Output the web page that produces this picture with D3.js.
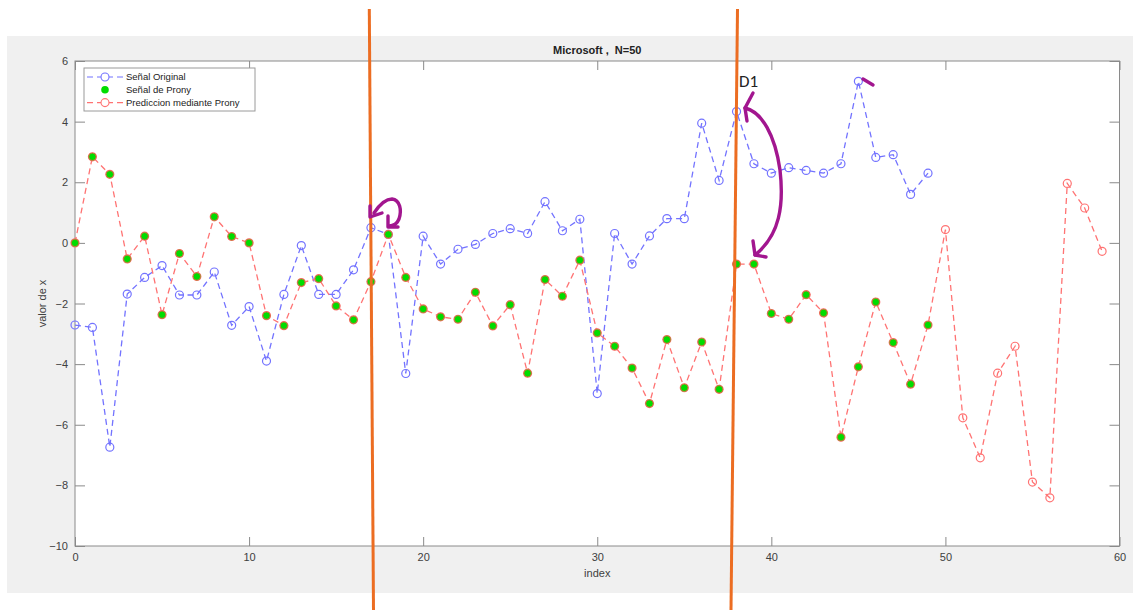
<!DOCTYPE html>
<html>
<head>
<meta charset="utf-8">
<script src="https://cdn.jsdelivr.net/npm/d3@7"></script>
<style>
  body { margin: 0; background: #fff; }
  text { font-family: "Liberation Sans", Arial, Helvetica, sans-serif; }
</style>
</head>
<body>
<div id="chart"></div>
<script>
  const width = 1141;
  const height = 610;
  const plot = { left: 75, right: 1119.5, top: 61, bottom: 546 };

  // Señal Original (index 0..49)
  const original = [
    -2.71, -2.79, -6.74, -1.69, -1.14, -0.75, -1.72, -1.72, -0.96, -2.72,
    -2.1, -3.9, -1.7, -0.09, -1.7, -1.7, -0.89, 0.5, 0.28, -4.31,
    0.22, -0.7, -0.21, -0.05, 0.31, 0.47, 0.31, 1.36, 0.4, 0.78,
    -4.97, 0.31, -0.7, 0.23, 0.8, 0.8, 3.95, 2.06, 4.33, 2.61,
    2.3, 2.48, 2.39, 2.3, 2.61, 5.33, 2.82, 2.91, 1.6, 2.3
  ];
  // Prediccion mediante Prony (index 0..59); first 50 are also Señal de Prony
  const prediction = [
    0, 2.84, 2.26, -0.53, 0.22, -2.37, -0.35, -1.11, 0.86, 0.21,
    0, -2.4, -2.73, -1.31, -1.18, -2.08, -2.54, -1.28, 0.28, -1.14,
    -2.18, -2.44, -2.52, -1.63, -2.74, -2.04, -4.3, -1.21, -1.76, -0.57,
    -2.97, -3.41, -4.13, -5.3, -3.19, -4.78, -3.27, -4.83, -0.7, -0.7,
    -2.33, -2.52, -1.71, -2.31, -6.41, -4.09, -1.95, -3.29, -4.66, -2.71,
    0.44, -5.77, -7.09, -4.3, -3.41, -7.89, -8.41, 1.96, 1.15, -0.28
  ];
  const pronyCount = 50;
  const xTicks = [0, 10, 20, 30, 40, 50, 60];
  const yTicks = [-10, -8, -6, -4, -2, 0, 2, 4, 6];
  const legendLabels = ["Señal Original", "Señal de Prony", "Prediccion mediante Prony"];

  const blue = "#7373ff";
  const red = "#ff7373";
  const green = "#00dd00";

  const svg = d3.select("#chart").append("svg")
    .attr("width", width)
    .attr("height", height);

  // figure background
  svg.append("rect")
    .attr("x", 7).attr("y", 36)
    .attr("width", 1126).attr("height", 557)
    .attr("fill", "#f0f0f0");

  svg.append("rect")
    .attr("x", plot.left).attr("y", plot.top)
    .attr("width", plot.right - plot.left).attr("height", plot.bottom - plot.top)
    .attr("fill", "#fff");

  const x = d3.scaleLinear().domain([0, 60]).range([plot.left, plot.right]);
  const y = d3.scaleLinear().domain([-10, 6]).range([plot.bottom, plot.top]);

  // axes (ticks point inward, like MATLAB)
  const axisColor = "#8a8a8a";
  function styleAxis(g) {
    g.select(".domain").remove();
    g.selectAll("line").attr("stroke", axisColor);
    g.selectAll("text").attr("fill", "#404040").style("font-size", "11px");
  }
  svg.append("g")
    .attr("transform", `translate(0,${plot.bottom})`)
    .call(d3.axisBottom(x).tickValues(xTicks).tickSizeInner(-9).tickSizeOuter(0).tickPadding(7))
    .call(styleAxis);
  svg.append("g")
    .attr("transform", `translate(0,${plot.top})`)
    .call(d3.axisTop(x).tickValues(xTicks).tickSizeInner(-9).tickSizeOuter(0).tickFormat(""))
    .call(styleAxis);
  svg.append("g")
    .attr("transform", `translate(${plot.left},0)`)
    .call(d3.axisLeft(y).tickValues(yTicks).tickSizeInner(-10).tickSizeOuter(0).tickPadding(7))
    .call(styleAxis);
  svg.append("g")
    .attr("transform", `translate(${plot.right},0)`)
    .call(d3.axisRight(y).tickValues(yTicks).tickSizeInner(-10).tickSizeOuter(0).tickFormat(""))
    .call(styleAxis);

  svg.append("rect")
    .attr("x", plot.left).attr("y", plot.top)
    .attr("width", plot.right - plot.left).attr("height", plot.bottom - plot.top)
    .attr("fill", "none")
    .attr("stroke", axisColor);

  const line = d3.line().x((d, i) => x(i)).y(d => y(d));

  // Señal Original
  svg.append("path")
    .datum(original)
    .attr("d", line)
    .attr("fill", "none")
    .attr("stroke", blue)
    .attr("stroke-width", 1.3)
    .attr("stroke-dasharray", "6,4");
  svg.append("g")
    .selectAll("circle")
    .data(original)
    .join("circle")
    .attr("cx", (d, i) => x(i))
    .attr("cy", d => y(d))
    .attr("r", 4)
    .attr("fill", "none")
    .attr("stroke", blue)
    .attr("stroke-width", 1.2);

  // Prediccion mediante Prony
  svg.append("path")
    .datum(prediction)
    .attr("d", line)
    .attr("fill", "none")
    .attr("stroke", red)
    .attr("stroke-width", 1.3)
    .attr("stroke-dasharray", "6,4");
  svg.append("g")
    .selectAll("circle")
    .data(prediction)
    .join("circle")
    .attr("cx", (d, i) => x(i))
    .attr("cy", d => y(d))
    .attr("r", 4)
    .attr("fill", "none")
    .attr("stroke", red)
    .attr("stroke-width", 1.2);

  // Señal de Prony
  svg.append("g")
    .selectAll("circle")
    .data(prediction.slice(0, pronyCount))
    .join("circle")
    .attr("cx", (d, i) => x(i))
    .attr("cy", d => y(d))
    .attr("r", 3.7)
    .attr("fill", green)
    .attr("stroke", "#d0703a")
    .attr("stroke-width", 0.8);

  // title and labels
  svg.append("text")
    .attr("x", (plot.left + plot.right) / 2)
    .attr("y", 54)
    .attr("text-anchor", "middle")
    .style("font-size", "11px")
    .style("font-weight", "bold")
    .style("white-space", "pre")
    .attr("fill", "#222")
    .text("Microsoft ,  N=50");
  svg.append("text")
    .attr("x", (plot.left + plot.right) / 2)
    .attr("y", 577)
    .attr("text-anchor", "middle")
    .style("font-size", "11px")
    .attr("fill", "#404040")
    .text("index");
  svg.append("text")
    .attr("transform", `translate(46,${(plot.top + plot.bottom) / 2}) rotate(-90)`)
    .attr("text-anchor", "middle")
    .style("font-size", "11px")
    .attr("fill", "#404040")
    .text("valor de x");

  // legend
  const legend = svg.append("g").attr("transform", "translate(84,68)");
  legend.append("rect")
    .attr("width", 171).attr("height", 43)
    .attr("fill", "#fff")
    .attr("stroke", "#9a9a9a");
  const legendRows = legend.selectAll("g")
    .data(legendLabels)
    .join("g")
    .attr("transform", (d, i) => `translate(0,${9 + i * 12.8})`);
  legendRows.filter((d, i) => i !== 1).append("line")
    .attr("x1", 3).attr("x2", 39)
    .attr("stroke", (d, i) => i === 0 ? blue : red)
    .attr("stroke-width", 1.2)
    .attr("stroke-dasharray", "6,4");
  legendRows.append("circle")
    .attr("cx", 21)
    .attr("r", (d, i) => i === 1 ? 3.8 : 4)
    .attr("fill", (d, i) => i === 1 ? green : "#fff")
    .attr("stroke", (d, i) => i === 0 ? blue : i === 2 ? red : "none")
    .attr("stroke-width", 1.1);
  legendRows.append("text")
    .attr("x", 42)
    .attr("dy", "0.35em")
    .style("font-size", "9.5px")
    .attr("fill", "#222")
    .text(d => d);

  // hand-drawn overlay (orange guides, purple arrows, D1 label)
  const orange = "#ec6d22";
  const purple = "#a2168f";
  const guides = [[[369.3, 9], [373.5, 610]], [[737.5, 9], [731, 610]]];
  svg.append("g")
    .selectAll("line")
    .data(guides)
    .join("line")
    .attr("x1", d => d[0][0]).attr("y1", d => d[0][1])
    .attr("x2", d => d[1][0]).attr("y2", d => d[1][1])
    .attr("stroke", orange)
    .attr("stroke-width", 3);

  const strokes = [
    // curl near index 17-18
    "M370,206 L370,217 L382,213",
    "M374,213 C380,204 386,199 392,199 C400,200 402,210 399,219 C397,224 393,226 389,226",
    "M388,216 L388,227 L398,227",
    // big double-headed arrow near D1
    "M753,93 L745,108 L747,121",
    "M745,108 C762,112 775,135 780,170 C784,205 780,235 755,255",
    "M753,241 L755,255 L766,257",
    // small tick near index 45
    "M863,79 L873,85"
  ];
  svg.append("g")
    .selectAll("path")
    .data(strokes)
    .join("path")
    .attr("d", d => d)
    .attr("fill", "none")
    .attr("stroke", purple)
    .attr("stroke-width", 3.4)
    .attr("stroke-linecap", "round")
    .attr("stroke-linejoin", "round");

  svg.append("text")
    .attr("x", 739)
    .attr("y", 87)
    .style("font-family", "Calibri, Carlito, 'Liberation Sans', Arial, sans-serif")
    .style("font-size", "17px")
    .attr("fill", "#222")
    .text("D1");
</script>
</body>
</html>
